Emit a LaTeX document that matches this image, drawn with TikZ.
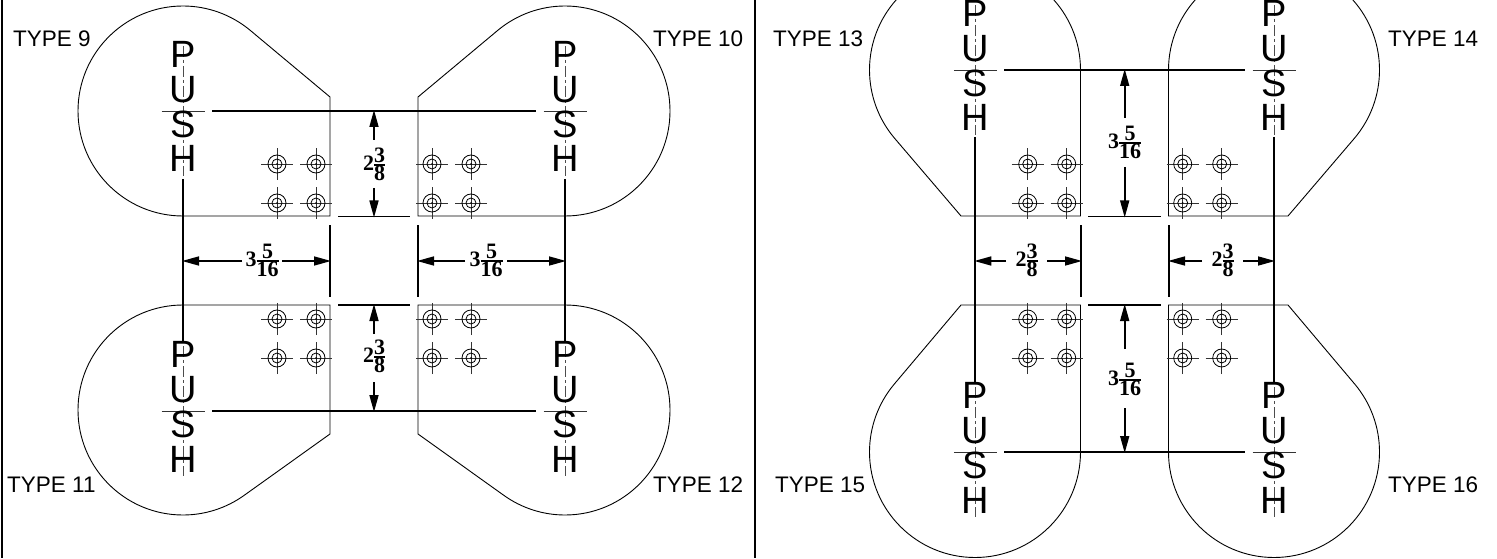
\documentclass[tikz,border=0pt]{standalone}
\usepackage{graphicx, array, tikz, xcolor, fontspec}
\setmainfont{Liberation Sans}
\newfontfamily\dimfont{Liberation Serif}
\usetikzlibrary{arrows.meta, calc}
\tikzset{x=1pt, y=1pt,
  outline/.style = {line width=0.9pt, black},
  dimline/.style = {line width=1.8pt, black},
  dimarrow/.style = {line width=1.6pt, black, -{Triangle[length=17pt, width=9pt]}, shorten >=-1pt},
  centerline/.style = {line width=0.8pt, black!70, dash pattern=on 11pt off 3pt on 3pt off 3pt},
  crossline/.style = {line width=0.8pt, black!80},
  typelabel/.style = {font=\fontsize{22.5}{24}\selectfont, anchor=base west, inner sep=0pt},
  pushletter/.style = {font=\fontsize{38}{40}\selectfont, anchor=base, inner sep=0pt},
  dimlabel/.style = {font=\dimfont\bfseries\fontsize{22}{6}\selectfont, inner sep=0pt}
}
\setlength{\arrayrulewidth}{1.5pt}
\newcommand{\dimfrac}[3]{#1\begin{tabular}{@{}c@{}}#2\\\hline#3\end{tabular}}
\begin{document}
\begin{tikzpicture}
\clip (0,0) rectangle (1497,558);
\useasboundingbox (0,0) rectangle (1497,558);
% frame
\draw[line width=2pt] (2,558) -- (2,0);
\draw[line width=2pt] (755,558) -- (755,0);
% left panel outlines
\draw[outline] (183,342) arc (270:50.1:105) -- (330,461) -- (330,342) -- cycle;
\draw[outline] (565,342) arc (-90:129.9:105) -- (418,461) -- (418,342) -- cycle;
\draw[outline] (183,253) arc (90:306:105) -- (330,124) -- (330,253) -- cycle;
\draw[outline] (565,253) arc (90:-126:105) -- (418,124) -- (418,253) -- cycle;
% right panel outlines
\draw[outline] (1080.5,488) arc (0:220.2:105.5) -- (961,342) -- (1080.5,342) -- cycle;
\draw[outline] (1168.5,488) arc (180:-40.2:105.5) -- (1288,342) -- (1168.5,342) -- cycle;
\draw[outline] (1080.5,106) arc (0:-220:105.5) -- (961,253) -- (1080.5,253) -- cycle;
\draw[outline] (1168.5,106) arc (180:400:105.5) -- (1288,253) -- (1168.5,253) -- cycle;
% bolt patterns
\foreach \bx in {277,316,432,471,1027.7,1066.7,1182.7,1221.7}
  \foreach \by in {394,355,239,200} {
    \draw[crossline] (\bx-16,\by) -- (\bx+16,\by) (\bx,\by-16) -- (\bx,\by+16);
    \draw[line width=0.8pt] (\bx,\by) circle (9) (\bx,\by) circle (5);
    \fill (\bx,\by) circle (1);
  }
% push buttons
\foreach \cx/\cy/\tp in {183/447/a,565/447/b,183/147/c,565/147/d,975.3/488/e,1274/488/f,975.3/106/g,1274/106/h} {
  \draw[centerline] (\cx,\cy+65) -- (\cx,\cy-65);
  \draw[crossline] (\cx-21.5,\cy) -- (\cx+21.5,\cy);
  \node[pushletter] (P\tp) at (\cx,\cy+43.5) {P};
  \node[pushletter] (U\tp) at (\cx,\cy+8.5) {U};
  \node[pushletter] (S\tp) at (\cx,\cy-26.5) {S};
  \node[pushletter] (H\tp) at (\cx,\cy-61) {H};
}
% extension lines
\draw[dimline] (212,447) -- (536,447);
\draw[dimline] (212,147) -- (536,147);
\draw[dimline] (338,341.5) -- (410,341.5);
\draw[dimline] (338,253) -- (410,253);
\draw[dimline] (183,379) -- (183,216);
\draw[dimline] (565,379) -- (565,216);
\draw[dimline] (330,332.5) -- (330,261.5);
\draw[dimline] (418,332.5) -- (418,261.5);
\draw[dimline] (1004,488) -- (1245,488);
\draw[dimline] (1004,106) -- (1245,106);
\draw[dimline] (1088,341.5) -- (1161,341.5);
\draw[dimline] (1088,253) -- (1161,253);
\draw[dimline] (975.3,421) -- (975.3,175);
\draw[dimline] (1274,421) -- (1274,175);
\draw[dimline] (1081,332.5) -- (1081,261.5);
\draw[dimline] (1169,332.5) -- (1169,261.5);
% dimensions, left panel
\node[dimlabel] (dimA) at (374,393) {\dimfrac{2}{3}{8}};
\node[dimlabel] (dimB) at (374,201) {\dimfrac{2}{3}{8}};
\node[dimlabel] (dimC) at (262,297) {\dimfrac{3}{5}{16}};
\node[dimlabel] (dimD) at (486,297) {\dimfrac{3}{5}{16}};
\draw[dimarrow] (374,418) -- (374,447);
\draw[dimarrow] (374,370) -- (374,341.5);
\draw[dimarrow] (374,224) -- (374,253);
\draw[dimarrow] (374,176) -- (374,147);
\draw[dimarrow] (242,297) -- (183,297);
\draw[dimarrow] (282,297) -- (330,297);
\draw[dimarrow] (465,297) -- (418,297);
\draw[dimarrow] (507,297) -- (565,297);
% dimensions, right panel
\node[dimlabel] (dimE) at (1124.7,415) {\dimfrac{3}{5}{16}};
\node[dimlabel] (dimF) at (1124.7,178) {\dimfrac{3}{5}{16}};
\node[dimlabel] (dimG) at (1026.5,297) {\dimfrac{2}{3}{8}};
\node[dimlabel] (dimH) at (1222.5,297) {\dimfrac{2}{3}{8}};
\draw[dimarrow] (1124.7,440) -- (1124.7,488);
\draw[dimarrow] (1124.7,391) -- (1124.7,341.5);
\draw[dimarrow] (1124.7,209) -- (1124.7,253);
\draw[dimarrow] (1124.7,150) -- (1124.7,106);
\draw[dimarrow] (1006,297) -- (975.3,297);
\draw[dimarrow] (1047,297) -- (1081,297);
\draw[dimarrow] (1202,297) -- (1169,297);
\draw[dimarrow] (1243,297) -- (1274,297);
% type labels
\node[typelabel] (type9)  at (13,511)   {TYPE 9};
\node[typelabel] (type10) at (653,511)  {TYPE 10};
\node[typelabel] (type11) at (7,66)     {TYPE 11};
\node[typelabel] (type12) at (653,66)   {TYPE 12};
\node[typelabel] (type13) at (773,511)  {TYPE 13};
\node[typelabel] (type14) at (1388,511) {TYPE 14};
\node[typelabel] (type15) at (775,66)   {TYPE 15};
\node[typelabel] (type16) at (1388,66)  {TYPE 16};
\end{tikzpicture}
\end{document}
